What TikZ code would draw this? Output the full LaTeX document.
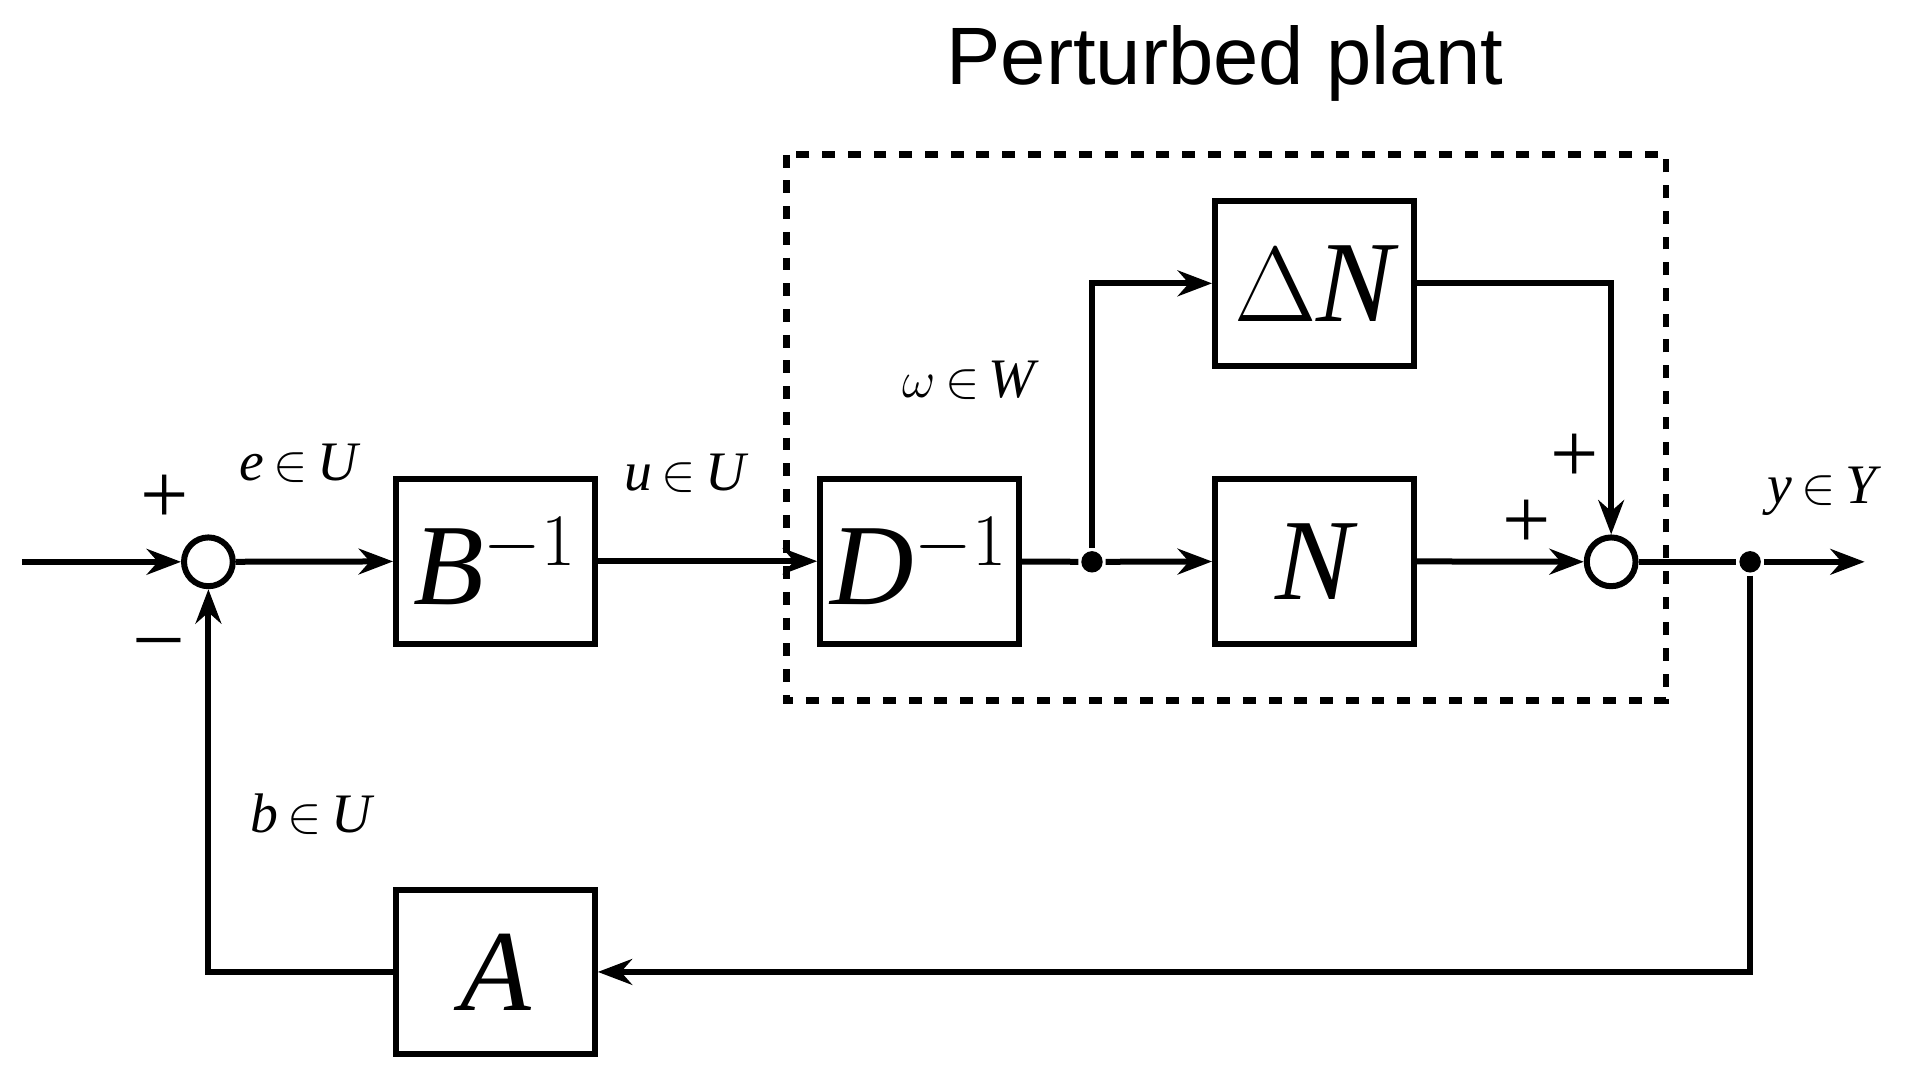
\documentclass[tikz,border=0pt]{standalone}
\usepackage{fontspec}
\setmainfont{Liberation Serif}
\newfontfamily\sans{Liberation Sans}
\usetikzlibrary{arrows.meta}
\begin{document}
\begin{tikzpicture}[x=0.01cm,y=-0.01cm,line width=1.4pt,
 blk/.style={draw,minimum width=1.63cm,minimum height=1.35cm,inner sep=0pt,font=\fontsize{27}{30}\selectfont\itshape},
 sum/.style={draw,circle,minimum size=0.4cm,inner sep=0pt},
 lab/.style={font=\fontsize{13}{15}\selectfont\itshape},
 sg/.style={font=\fontsize{20}{22}\selectfont},
 ar/.style={-{Stealth[length=8pt,width=6pt]}},
 dot/.style={circle,fill,inner sep=0pt,minimum size=5pt}]
\useasboundingbox (0,0) rectangle (1568,889);
\node[sum] (s1) at (171,461) {};
\node[sum] (s2) at (1322,461) {};
\node[blk] (B) at (406.5,460.5) {B$^{-1}$};
\node[blk] (D) at (754.5,460.5) {D$^{-1}$};
\node[blk] (N) at (1078.5,460.5) {N};
\node[blk] (dN) at (1078.5,232.5) {\upshape$\Delta$\itshape N};
\node[blk] (A) at (406.5,797.5) {A};
\node[dot] (j1) at (896,461) {};
\node[dot] (j2) at (1436,461) {};
\coordinate (in) at (18,461);
\coordinate (out) at (1530,461);
\draw[dashed,line width=1.6pt] (645,127) rectangle (1367,575);
\node[font=\sans\fontsize{19}{22}\selectfont] at (1005,52) {Perturbed plant};
\draw[ar] (in) -- (s1);
\draw[ar] (s1) -- (B);
\draw[ar] (B) -- (D);
\draw (D) -- (j1);
\draw[ar] (j1) -- (N);
\draw[ar] (j1) |- (dN);
\draw[ar] (N) -- (s2);
\draw[ar] (dN) -| (s2);
\draw (s2) -- (j2);
\draw[ar] (j2) -- (out);
\draw[ar] (j2) |- (A);
\draw[ar] (A) -| (s1);
\node[sg] at (135,410) {+};
\node[sg] at (130,533) {--};
\node[sg] at (1292,376) {+};
\node[sg] at (1253,430) {+};
\node[lab] at (245,380) {e\,$\in$\,U};
\node[lab] at (562,388) {u\,$\in$\,U};
\node[lab] at (795,312) {$\omega$\,$\in$\,W};
\node[lab] at (1495,403) {y\,$\in$\,Y};
\node[lab] at (255,668) {b\,$\in$\,U};
\end{tikzpicture}
\end{document}
